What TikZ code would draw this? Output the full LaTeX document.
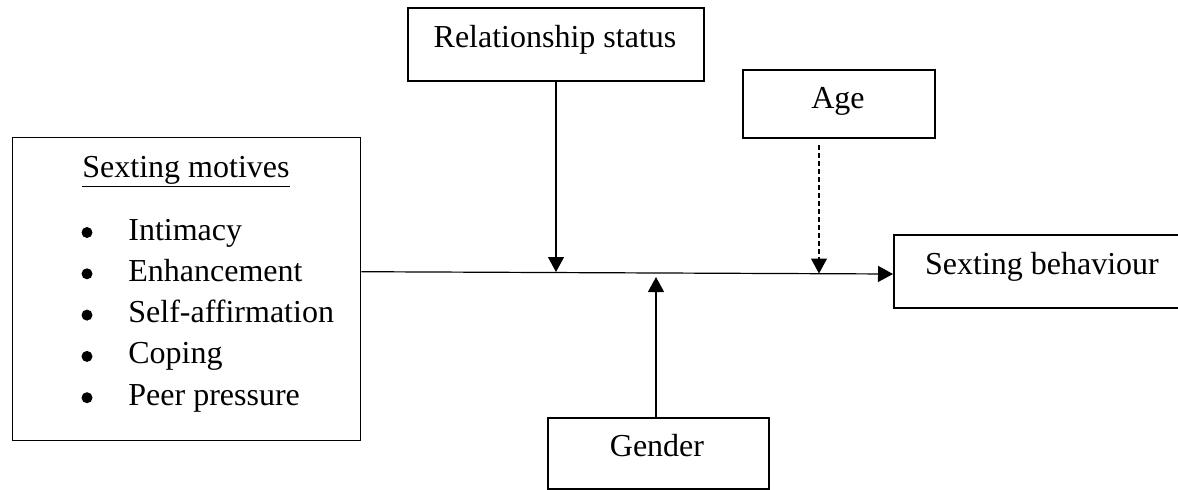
\documentclass[tikz,border=0pt]{standalone}
\usepackage{fontspec}
\setmainfont{Liberation Serif}
\usetikzlibrary{arrows.meta}
\begin{document}
\begin{tikzpicture}[x=0.5pt,y=-0.5pt,
  box/.style={draw, line width=1pt, inner sep=0pt, anchor=north west},
  lbl/.style={anchor=base, inner sep=0pt, font=\fontsize{16}{19}\selectfont},
  item/.style={anchor=base west, inner sep=0pt, font=\fontsize{16}{19}\selectfont},
  dot/.style={circle, fill, inner sep=0pt, minimum size=5.5pt},
  conn/.style={line width=0.6pt, -{Triangle[length=7.5pt,width=8pt]}}]
\useasboundingbox (0,0) rectangle (1178,489);
% boxes
\node[box, minimum width=148pt, minimum height=36.5pt] (rel) at (407,7) {};
\node[box, minimum width=96pt, minimum height=34pt] (age) at (742,69) {};
\node[box, line width=0.7pt, minimum width=174pt, minimum height=151.5pt] (mot) at (12,137) {};
\node[box, minimum width=150pt, minimum height=36.5pt] (beh) at (893,234) {};
\node[box, minimum width=110.5pt, minimum height=35.5pt] (gen) at (547,417) {};
% labels
\node[lbl] (relt) at (555,47) {Relationship status};
\node[lbl] (aget) at (838,108) {Age};
\node[lbl] (beht) at (1042,274) {Sexting behaviour};
\node[lbl] (gent) at (657,456) {Gender};
\node[lbl] (mott) at (186,177) {\underline{Sexting motives}};
\foreach \t [count=\i from 0] in {Intimacy,Enhancement,Self-affirmation,Coping,Peer pressure}{
  \node[item] (it\i) at (128,240+41.3*\i) {\t};
  \node[dot] (bu\i) at (87,232.5+41.3*\i) {};
}
% junctions on the main line
\coordinate (jr) at (556,272);
\coordinate (ja) at (819,273.5);
\coordinate (jg) at (656,277);
% connectors
\draw[conn] ([yshift=8.75pt]mot.east) -- ([yshift=-1.25pt]beh.west);
\draw[conn] (rel.south -| jr) -- (jr);
\draw[conn, dash pattern=on 2.5pt off 1.5pt] ([yshift=-3pt]age.south -| ja) -- (ja);
\draw[conn] (gen.north -| jg) -- (jg);
\end{tikzpicture}
\end{document}
